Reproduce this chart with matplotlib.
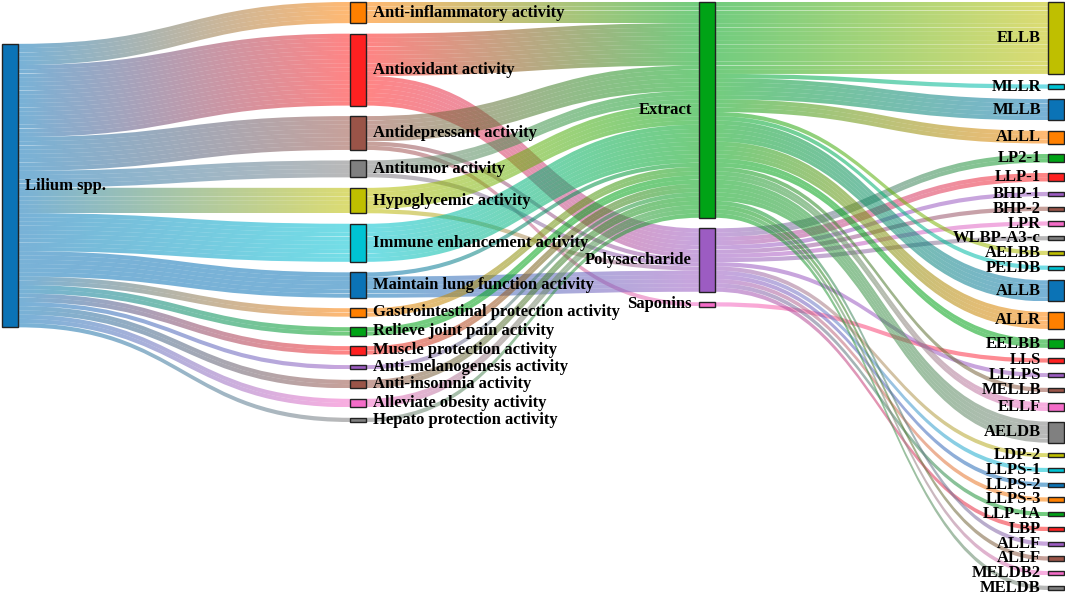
import numpy as np
import matplotlib
matplotlib.use("Agg")
import matplotlib.pyplot as plt
from matplotlib.path import Path
from matplotlib.patches import PathPatch, Rectangle
from matplotlib.colors import to_rgb

# ---------------- data ----------------
source_label = "Lilium spp."

activities = [
    "Anti-inflammatory activity", "Antioxidant activity", "Antidepressant activity",
    "Antitumor activity", "Hypoglycemic activity", "Immune enhancement activity",
    "Maintain lung function activity", "Gastrointestinal protection activity",
    "Relieve joint pain activity", "Muscle protection activity",
    "Anti-melanogenesis activity", "Anti-insomnia activity",
    "Alleviate obesity activity", "Hepato protection activity",
]
activity_values = [5, 17, 8, 4, 6, 9, 6, 2, 2, 2, 1, 2, 2, 1]

compound_types = ["Extract", "Polysaccharide", "Saponins"]

link_activity = [
    "Anti-inflammatory activity", "Antioxidant activity", "Antioxidant activity",
    "Antidepressant activity", "Antidepressant activity", "Antidepressant activity",
    "Antitumor activity", "Antitumor activity",
    "Hypoglycemic activity", "Hypoglycemic activity",
    "Immune enhancement activity",
    "Maintain lung function activity", "Maintain lung function activity",
    "Gastrointestinal protection activity", "Relieve joint pain activity",
    "Muscle protection activity", "Anti-melanogenesis activity",
    "Anti-insomnia activity", "Alleviate obesity activity", "Hepato protection activity",
]
link_type = [
    "Extract", "Extract", "Polysaccharide",
    "Extract", "Polysaccharide", "Saponins",
    "Extract", "Polysaccharide",
    "Extract", "Polysaccharide",
    "Extract",
    "Extract", "Polysaccharide",
    "Extract", "Extract", "Extract", "Extract", "Extract", "Extract", "Extract",
]
link_value = [5, 10, 7, 6, 1, 1, 3, 1, 5, 1, 9, 1, 5, 2, 2, 2, 1, 2, 2, 1]

compounds = [
    "ELLB", "MLLR", "MLLB", "ALLL", "LP2-1", "LLP-1", "BHP-1", "BHP-2", "LPR",
    "WLBP-A3-c", "AELBB", "PELDB", "ALLB", "ALLR", "EELBB", "LLS", "LLLPS",
    "MELLB", "ELLF", "AELDB", "LDP-2", "LLPS-1", "LLPS-2", "LLPS-3", "LLP-1A",
    "LBP", "ALLF", "ALLF", "MELDB2", "MELDB",
]
compound_type = [
    "Extract", "Extract", "Extract", "Extract", "Polysaccharide", "Polysaccharide",
    "Polysaccharide", "Polysaccharide", "Polysaccharide", "Polysaccharide",
    "Extract", "Extract", "Extract", "Extract", "Extract", "Saponins",
    "Polysaccharide", "Extract", "Extract", "Extract", "Polysaccharide",
    "Polysaccharide", "Polysaccharide", "Polysaccharide", "Polysaccharide",
    "Polysaccharide", "Extract", "Extract", "Extract", "Extract",
]
compound_values = [17, 1, 5, 3, 2, 2, 1, 1, 1, 1, 1, 1, 5, 4, 2, 1, 1, 1, 2, 5,
                   1, 1, 1, 1, 1, 1, 1, 1, 1, 1]

palette = ["#0b73b6", "#ff8000", "#00a316", "#ff2121", "#9c5cc2",
           "#9a5448", "#f46cc8", "#808080", "#bfbf00", "#00c3d3"]

# ---------------- build nodes ----------------
W, H = 1065, 595
fig = plt.figure(figsize=(W / 100, H / 100), dpi=100)
ax = fig.add_axes([0, 0, 1, 1])
ax.set_xlim(0, W)
ax.set_ylim(H, 0)
ax.axis("off")

col_x = [2, 350, 699, 1048]
node_w = 16
y_top, y_bot, pad = 2, 590, 10.5
alpha = 0.55

nodes = []  # dicts
def add_node(key, label, col, value):
    nodes.append(dict(key=key, label=label, col=col, value=value))
    return len(nodes) - 1

src_id = add_node("src", source_label, 0, sum(activity_values))
act_ids = [add_node(("a", a), a, 1, v) for a, v in zip(activities, activity_values)]
type_vals = [sum(v for t, v in zip(link_type, link_value) if t == ty) for ty in compound_types]
type_ids = [add_node(("t", t), t, 2, v) for t, v in zip(compound_types, type_vals)]
comp_ids = [add_node(("c", i), c, 3, v) for i, (c, v) in enumerate(zip(compounds, compound_values))]

# colour order (creation order of original figure)
color_order = [src_id, act_ids[0], type_ids[0], act_ids[1], type_ids[1], act_ids[2],
               type_ids[2]] + act_ids[3:] + comp_ids
for i, nid in enumerate(color_order):
    nodes[nid]["color"] = palette[i % len(palette)]

links = []
for aid, v in zip(act_ids, activity_values):
    links.append([src_id, aid, v])
for a, t, v in zip(link_activity, link_type, link_value):
    links.append([act_ids[activities.index(a)], type_ids[compound_types.index(t)], v])
for cid, t, v in zip(comp_ids, compound_type, compound_values):
    links.append([type_ids[compound_types.index(t)], cid, v])

# ---------------- layout ----------------
cols = [[n for n in range(len(nodes)) if nodes[n]["col"] == c] for c in range(4)]
k = min((y_bot - y_top - (len(c) - 1) * pad) / sum(nodes[n]["value"] for n in c) for c in cols)
for c in cols[1:]:
    y = y_top
    for n in c:
        nodes[n]["y0"] = y
        nodes[n]["y1"] = y + nodes[n]["value"] * k
        y = nodes[n]["y1"] + pad
# source node centred on its targets
tot = sum(nodes[t]["value"] for t in act_ids)
cy = sum((nodes[t]["y0"] + nodes[t]["y1"]) / 2 * nodes[t]["value"] for t in act_ids) / tot
h = nodes[src_id]["value"] * k
nodes[src_id]["y0"], nodes[src_id]["y1"] = cy - h / 2, cy + h / 2
for n in nodes:
    n["x0"] = col_x[n["col"]]
    n["x1"] = n["x0"] + node_w

# link offsets
out_off = {i: nodes[i]["y0"] for i in range(len(nodes))}
in_off = {i: nodes[i]["y0"] for i in range(len(nodes))}
link_geo = {}
for i in range(len(nodes)):
    outs = sorted([j for j, l in enumerate(links) if l[0] == i], key=lambda j: nodes[links[j][1]]["y0"])
    for j in outs:
        link_geo.setdefault(j, {})["ys"] = out_off[i]
        out_off[i] += links[j][2] * k
    ins = sorted([j for j, l in enumerate(links) if l[1] == i], key=lambda j: nodes[links[j][0]]["y0"])
    for j in ins:
        link_geo.setdefault(j, {})["yt"] = in_off[i]
        in_off[i] += links[j][2] * k

# ---------------- draw links ----------------
ngrad = 64
g = np.linspace(0, 1, ngrad)[:, None]

def draw_strip(x0, x1, ys, yt, w, c0, c1, z):
    xm = (x0 + x1) / 2
    verts = [(x0, ys), (xm, ys), (xm, yt), (x1, yt), (x1, yt + w),
             (xm, yt + w), (xm, ys + w), (x0, ys + w), (x0, ys)]
    codes = [Path.MOVETO, Path.CURVE4, Path.CURVE4, Path.CURVE4, Path.LINETO,
             Path.CURVE4, Path.CURVE4, Path.CURVE4, Path.CLOSEPOLY]
    patch = PathPatch(Path(verts, codes), transform=ax.transData, fc="none", ec="none")
    rgba = np.zeros((1, ngrad, 4))
    rgba[0, :, :3] = (1 - g) * np.array(c0) + g * np.array(c1)
    rgba[0, :, 3] = alpha
    im = ax.imshow(rgba, extent=(x0, x1, max(ys, yt) + w, min(ys, yt)),
                   aspect="auto", interpolation="bilinear", zorder=z)
    im.set_clip_path(patch)

z = 1.0
for j, (s, t, v) in enumerate(links):
    c0 = to_rgb(nodes[s]["color"])
    c1 = to_rgb(nodes[t]["color"])
    ys, yt = link_geo[j]["ys"], link_geo[j]["yt"]
    for u in range(v):
        draw_strip(nodes[s]["x1"], nodes[t]["x0"], ys + u * k, yt + u * k, k, c0, c1, z)
        z += 0.001

ax.set_xlim(0, W)
ax.set_ylim(H, 0)

# ---------------- draw nodes & labels ----------------
font = dict(family="Liberation Serif", weight="bold", size=12, color="black")
for n in nodes:
    ax.add_patch(Rectangle((n["x0"], n["y0"]), node_w, n["y1"] - n["y0"],
                           facecolor=n["color"], edgecolor="#222222", lw=1.0, zorder=5))
    yc = (n["y0"] + n["y1"]) / 2
    if n["col"] in (0, 1):
        ax.text(n["x1"] + 7, yc, n["label"], ha="left", va="center", zorder=6, **font)
    else:
        ax.text(n["x0"] - 7, yc, n["label"], ha="right", va="center", zorder=6, **font)

fig.savefig("out.png", dpi=100)
